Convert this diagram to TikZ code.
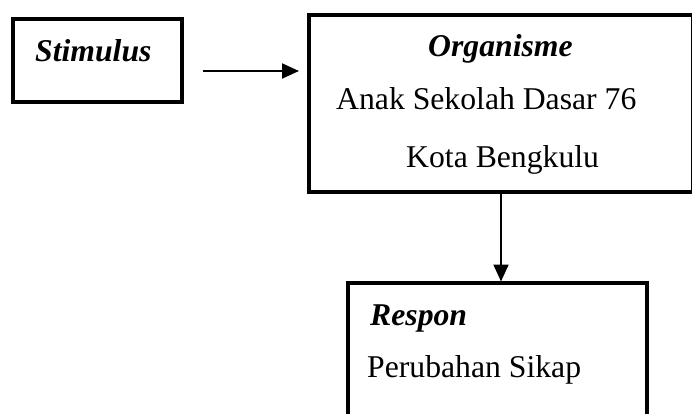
\documentclass[tikz,border=0pt]{standalone}
\usepackage{fontspec}
\setmainfont{Liberation Serif}
\usetikzlibrary{arrows.meta}
\begin{document}
\begin{tikzpicture}[x=1pt,y=1pt,
  box/.style={draw=black,line width=3.3pt,minimum width=#1,inner sep=0pt,outer sep=0pt},
  lbl/.style={anchor=base west,inner sep=0pt,font=\fontsize{31.7}{36}\selectfont},
  hd/.style={lbl,font=\fontsize{31.7}{36}\selectfont\bfseries\itshape},
  arr/.style={line width=2pt,-{Triangle[length=17pt,width=15pt]}}]
\clip (0,0) rectangle (692,413);
\fill[white] (0,0) rectangle (692,413);
% boxes
\node[box=169pt,minimum height=83pt] (stim) at (97.5,352.5) {};
\node[box=383.5pt,minimum height=177pt] (org) at (500.75,309.5) {};
\node[box=299pt,minimum height=170pt] (resp) at (497.5,45) {};
% texts
\node[hd] (tstim) at (35,351) {Stimulus};
\node[hd] (torg) at (428,356) {Organisme};
\node[lbl] (tanak) at (336,303) {Anak Sekolah Dasar 76};
\node[lbl] (tkota) at (406,246) {Kota Bengkulu};
\node[hd] (tresp) at (370,88) {Respon};
\node[lbl] (tper) at (367,36) {Perubahan Sikap};
% connectors
\coordinate (ay) at (0,342);
\coordinate (ax) at (501,0);
\draw[arr,shorten <=21pt,shorten >=10pt] (stim.east |- ay) -- (org.west |- ay);
\draw[arr,shorten >=1.5pt] (org.south -| ax) -- (resp.north -| ax);
\end{tikzpicture}
\end{document}
